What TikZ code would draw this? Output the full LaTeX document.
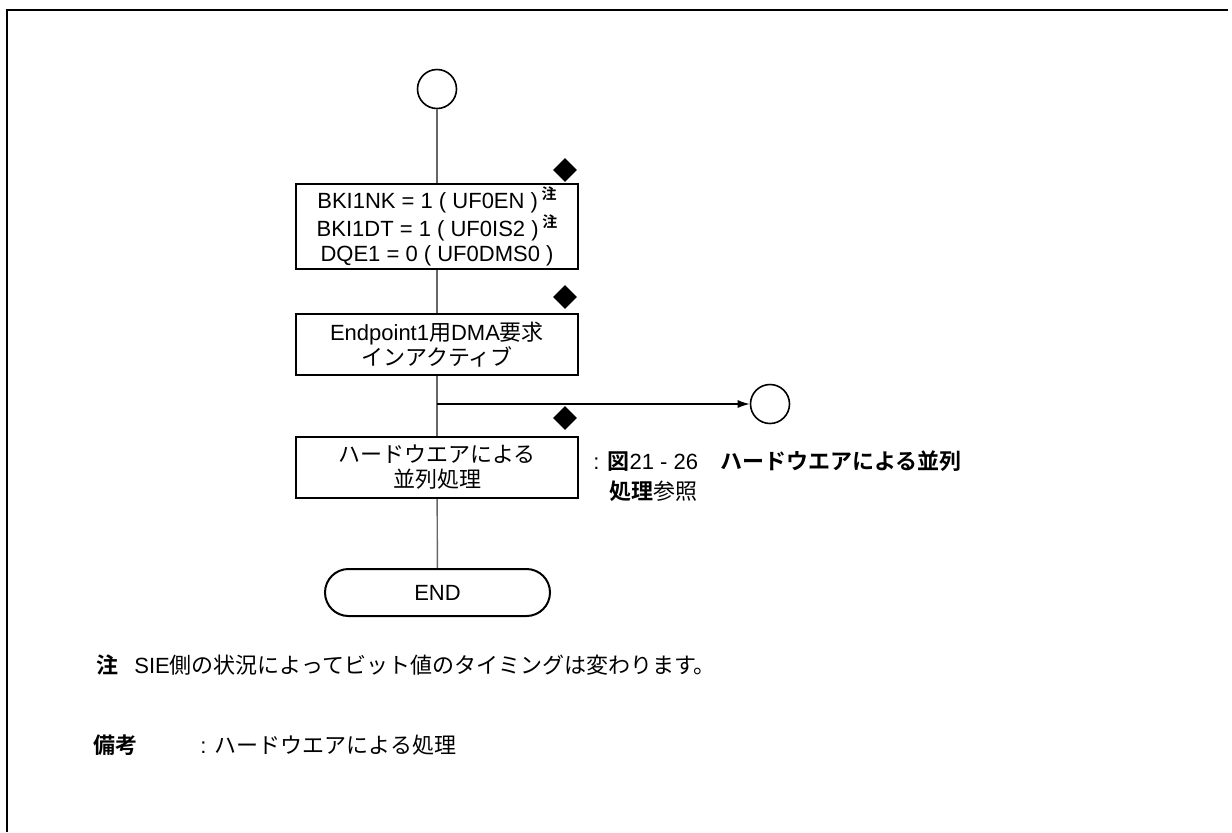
\documentclass[tikz,border=0pt]{standalone}
\usepackage{fontspec}
\setmainfont{Liberation Sans}
\newfontfamily\jpfont{Noto Sans CJK JP}[BoldFont={Noto Sans CJK JP Bold}]
\usetikzlibrary{shapes.geometric, shapes.misc, arrows.meta, positioning}
\newcommand{\jp}[1]{{\jpfont #1}}
\newcommand{\jpb}[1]{{\jpfont\bfseries #1}}
\newcommand{\notemark}{\,\raisebox{0.75ex}{\fontsize{7.5}{7.5}\selectfont\jpb{注}}}

\begin{document}
\begin{tikzpicture}[x=0.5pt, y=-0.5pt,
        process/.style={rectangle, draw, line width=1pt, minimum width=141pt, align=center, inner sep=0pt},
        terminal/.style={rounded rectangle, draw, line width=1pt, minimum width=112.5pt, minimum height=23.5pt, inner sep=0pt},
        joint/.style={circle, draw, line width=0.8pt, minimum size=19.5pt, inner sep=0pt},
        marker/.style={diamond, fill=black, inner sep=0pt, minimum width=12pt, minimum height=12pt},
        textnote/.style={anchor=west, inner sep=0pt},
        flow/.style={draw=black!60, line width=0.7pt},
        branch/.style={draw=black, line width=0.6pt, -{Latex[length=6pt, width=4pt]}},
        font=\fontsize{11}{12.5}\selectfont
    ]

        \useasboundingbox (0,0) rectangle (1232,832);
        \draw[line width=1pt] (7,832) -- (7,10) -- (1228,10);

        \node[joint] (start) at (437,89) {};
        \node[process, minimum height=42.5pt] (bits) at (437,226.5) {BKI1NK = 1 ( UF0EN )\notemark\\BKI1DT = 1 ( UF0IS2 )\notemark\\DQE1 = 0 ( UF0DMS0 )};
        \node[process, minimum height=30.5pt] (dma) at (437,344.5) {Endpoint1\jp{用}DMA\jp{要求}\\\jp{インアクティブ}};
        \node[process, minimum height=30.5pt] (hw) at (437,467.5) {\jp{ハードウエアによる}\\\jp{並列処理}};
        \node[terminal] (end) at (437.5,592.5) {END};
        \node[joint] (exit) at (770,404) {};

        \node[marker] (m1) at (565,170) {};
        \node[marker] (m2) at (565,297) {};
        \node[marker] (m3) at (565,418) {};

        \coordinate (fork) at (437,404);

        \node[textnote] (sref1) at (593,461) {: \jpb{図}21 - 26\hspace{1em}\jpb{ハードウエアによる並列}};
        \node[textnote] (sref2) at (609,491) {\jpb{処理}\jp{参照}};

        \node[textnote] (notelbl) at (96,665) {\jpb{注}};
        \node[textnote] (notetxt) at (134,665) {SIE\jp{側の状況によってビット値のタイミングは変わります。}};
        \node[textnote] (rmklbl) at (93,745) {\jpb{備考}};
        \node[textnote] (rmktxt) at (200,745) {: \jp{ハードウエアによる処理}};

        \draw[flow] (start) -- (bits);
        \draw[flow] (bits) -- (dma);
        \draw[flow] (dma) -- (hw);
        \draw[flow] (hw) -- (end);
        \draw[branch] (fork) -- (exit);

    \end{tikzpicture}
\end{document}
